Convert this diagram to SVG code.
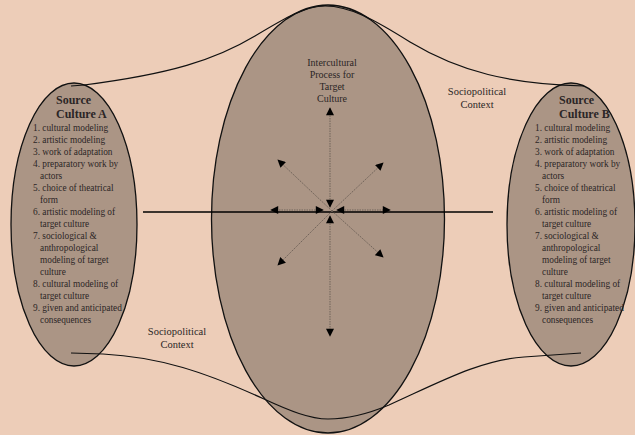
<svg xmlns="http://www.w3.org/2000/svg" width="635" height="435" viewBox="0 0 635 435">
<style>
.t{font-family:"Liberation Serif","Times New Roman",serif;fill:#2b2626}
.li{font-size:9.3px}
.hd{font-size:12px;font-weight:bold}
.lb{font-size:10px;text-anchor:middle}
.ell{fill:#ab9585;stroke:#111;stroke-width:1.3}
.cv{fill:none;stroke:#111;stroke-width:1.2}
.ar{stroke:#6a5d55;stroke-width:0.9;stroke-dasharray:1.5 1;fill:none}
</style>
<defs>
<marker id="ah" viewBox="0 0 10 10" refX="9" refY="5" markerWidth="9" markerHeight="8" markerUnits="userSpaceOnUse" orient="auto-start-reverse">
<path d="M0,0 L10,5 L0,10 z" fill="#000"/>
</marker>
</defs>
<rect width="635" height="435" fill="#edcdb8"/>
<g id="target">
<ellipse class="ell" cx="328" cy="219" rx="116.5" ry="214"/>
<text class="t lb" x="332" y="66">Intercultural</text>
<text class="t lb" x="332" y="78">Process for</text>
<text class="t lb" x="332" y="90">Target</text>
<text class="t lb" x="332" y="102">Culture</text>
</g>
<g id="sourceA">
<ellipse class="ell" cx="74" cy="224.5" rx="63" ry="141.5"/>
<text class="t hd" x="56" y="104">Source</text>
<text class="t hd" x="56" y="117.5">Culture A</text>
<g class="t li">
<text x="33" y="131">1. cultural modeling</text>
<text x="33" y="143">2. artistic modeling</text>
<text x="33" y="155">3. work of adaptation</text>
<text x="33" y="167">4. preparatory work by</text>
<text x="40" y="179">actors</text>
<text x="33" y="191">5. choice of theatrical</text>
<text x="40" y="203">form</text>
<text x="33" y="215">6. artistic modeling of</text>
<text x="40" y="227">target culture</text>
<text x="33" y="239">7. sociological &amp;</text>
<text x="40" y="251">anthropological</text>
<text x="40" y="263">modeling of target</text>
<text x="40" y="275">culture</text>
<text x="33" y="287">8. cultural modeling of</text>
<text x="40" y="299">target culture</text>
<text x="33" y="311">9. given and anticipated</text>
<text x="40" y="323">consequences</text>
</g>
</g>
<g id="sourceB">
<ellipse class="ell" cx="571" cy="224.5" rx="64" ry="141.5"/>
<text class="t hd" x="559" y="104">Source</text>
<text class="t hd" x="559" y="117.5">Culture B</text>
<g class="t li">
<text x="535" y="131">1. cultural modeling</text>
<text x="535" y="143">2. artistic modeling</text>
<text x="535" y="155">3. work of adaptation</text>
<text x="535" y="167">4. preparatory work by</text>
<text x="542" y="179">actors</text>
<text x="535" y="191">5. choice of theatrical</text>
<text x="542" y="203">form</text>
<text x="535" y="215">6. artistic modeling of</text>
<text x="542" y="227">target culture</text>
<text x="535" y="239">7. sociological &amp;</text>
<text x="542" y="251">anthropological</text>
<text x="542" y="263">modeling of target</text>
<text x="542" y="275">culture</text>
<text x="535" y="287">8. cultural modeling of</text>
<text x="542" y="299">target culture</text>
<text x="535" y="311">9. given and anticipated</text>
<text x="542" y="323">consequences</text>
</g>
</g>
<g id="context">
<path class="cv" d="M71 86 L84 85 C170 74 215 60 255 36 C285 18 305 6 325 6 C350 6 375 20 410 42 C460 72 510 84 584 86"/>
<path class="cv" d="M71 353 L103 354 C160 357 205 372 264 399 C290 411 310 419 328 419 C350 419 370 413 389 405 C440 382 480 360 524 357 L581 353"/>
<text class="t lb" x="477" y="95" style="font-size:10.5px">Sociopolitical</text>
<text class="t lb" x="477" y="108" style="font-size:10.5px">Context</text>
<text class="t lb" x="177" y="335" style="font-size:10.5px">Sociopolitical</text>
<text class="t lb" x="177" y="348" style="font-size:10.5px">Context</text>
</g>
<g id="connectors">
<line x1="143" y1="212" x2="493" y2="212" stroke="#000" stroke-width="1.4"/>
<line class="ar" x1="330" y1="207" x2="330" y2="108" marker-start="url(#ah)" marker-end="url(#ah)"/>
<line class="ar" x1="330" y1="216" x2="330" y2="336" marker-start="url(#ah)" marker-end="url(#ah)"/>
<line class="ar" x1="323" y1="210" x2="271" y2="210" marker-start="url(#ah)" marker-end="url(#ah)"/>
<line class="ar" x1="337" y1="210" x2="390" y2="210" marker-start="url(#ah)" marker-end="url(#ah)"/>
<line class="ar" x1="332" y1="211" x2="278" y2="160" marker-end="url(#ah)"/>
<line class="ar" x1="332" y1="211" x2="383" y2="163" marker-end="url(#ah)"/>
<line class="ar" x1="332" y1="211" x2="278" y2="265" marker-end="url(#ah)"/>
<line class="ar" x1="332" y1="211" x2="383" y2="257" marker-end="url(#ah)"/>
</g>
</svg>
